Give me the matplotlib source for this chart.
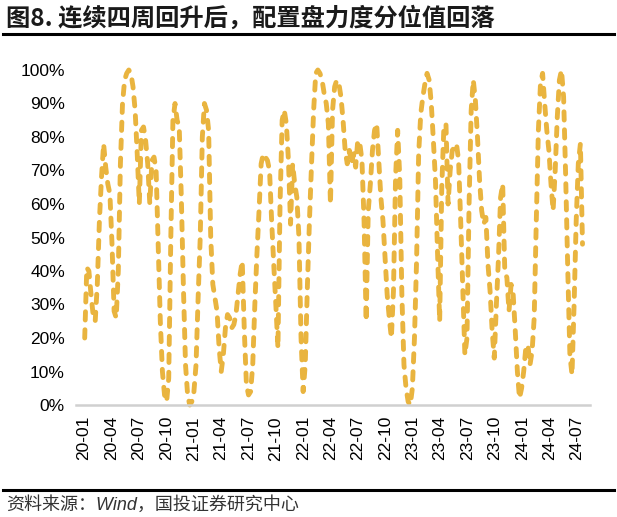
import matplotlib
matplotlib.use('Agg')
import matplotlib.pyplot as plt
from matplotlib.lines import Line2D
import pandas as pd

plt.rcParams['font.family'] = ['Liberation Sans', 'Noto Sans CJK SC', 'DejaVu Sans']

# ---- data (weekly, percentile in %) ----
start_date = '2020-01-03'
values = [
    # 2020
    20, 41, 40, 33, 27, 25, 36, 55, 68, 78, 71, 66, 63, 48, 28, 26, 40, 72, 90, 97,
    99, 100, 99, 95, 88, 75, 60, 82, 83, 79, 72, 60, 73, 74, 70, 48, 25, 10, 3, 1,
    8, 50, 85, 90, 85, 83, 62, 35, 12, 3, 0, 1, 4, 12, 32, 50, 80, 90, 88, 82,
    # 2021
    50, 36, 32, 28, 17, 10, 15, 23, 27, 26, 23, 24, 27, 33, 39, 43, 22, 6, 3, 4,
    12, 30, 45, 58, 72, 75, 74, 73, 70, 55, 42, 30, 17, 60, 85, 88, 84, 73, 54, 72,
    66, 62, 50, 20, 4, 12, 35, 55, 72, 88, 99, 100, 99, 97, 93, 90, 84, 60, 88, 95,
    # 2022
    97, 96, 92, 85, 76, 72, 76, 72, 75, 71, 79, 78, 73, 55, 25, 58, 66, 76, 82, 84,
    73, 62, 55, 44, 33, 26, 20, 34, 68, 82, 68, 33, 12, 5, 1, 0, 5, 20, 43, 75,
    87, 92, 96, 99, 97, 90, 79, 67, 45, 25, 65, 83, 84, 60, 70, 76, 77, 78, 73, 55,
    # 2023
    35, 15, 20, 60, 88, 97, 91, 80, 67, 58, 54, 56, 42, 34, 22, 14, 30, 44, 62, 66,
    40, 38, 28, 36, 33, 22, 10, 2, 5, 10, 17, 18, 12, 16, 26, 55, 82, 96, 99, 90,
    # 2024
    82, 76, 66, 58, 70, 86, 97, 100, 92, 68, 40, 15, 9, 30, 55, 72, 78, 48,
]
tick_labels = ['20-01', '20-04', '20-07', '20-10', '21-01', '21-04', '21-07',
               '21-10', '22-01', '22-04', '22-07', '22-10', '23-01', '23-04',
               '23-07', '23-10', '24-01', '24-04', '24-07']
y_ticks = [0, 10, 20, 30, 40, 50, 60, 70, 80, 90, 100]

title = '图8. 连续四周回升后，配置盘力度分位值回落'
source = '资料来源：Wind，国投证券研究中心'

dates = pd.date_range(start_date, periods=len(values), freq='7D')
tick_dates = pd.to_datetime(['20' + t + '-01' for t in tick_labels])

W, H = 617, 517
fig = plt.figure(figsize=(W / 100, H / 100), dpi=100)

ax_left, ax_right = 76, 590
y0, y100 = 405, 70
ax = fig.add_axes([ax_left / W, (H - y0) / H, (ax_right - ax_left) / W, (y0 - y100) / H])

ax.plot(dates, values, color='#E9B43F', lw=3.5, linestyle=(0, (1.7, 2.0)),
        dash_capstyle='round', solid_capstyle='round', clip_on=False)

ax.set_ylim(0, 100)
ax.set_yticks(y_ticks)
ax.set_yticklabels([f'{v}%' for v in y_ticks])

ax.set_xlim(pd.Timestamp('2019-12-05'), pd.Timestamp('2024-08-13'))
ax.set_xticks(tick_dates)
ax.set_xticklabels(tick_labels, rotation=90)

for s in ['top', 'right', 'left']:
    ax.spines[s].set_visible(False)
ax.spines['bottom'].set_color('#D0D0D0')
ax.spines['bottom'].set_linewidth(1.8)
ax.tick_params(axis='both', length=0, labelsize=12.5, colors='#000000')
ax.tick_params(axis='y', pad=8)
ax.tick_params(axis='x', pad=8)

fig.text(6 / W, 1 - 18 / H, title, fontsize=17.5, fontweight='bold',
         family=['Noto Sans CJK SC', 'DejaVu Sans'], va='center', ha='left', color='#1a1a1a')
fig.add_artist(Line2D([3 / W, 614 / W], [1 - 34 / H] * 2, color='black', lw=2.2))
fig.add_artist(Line2D([3 / W, 614 / W], [1 - 490 / H] * 2, color='black', lw=2.2))
fig.text(6 / W, 1 - 505 / H, source, fontsize=13, style='italic', color='#333333',
         family=['Liberation Sans', 'Noto Sans CJK SC'], va='center', ha='left')

fig.savefig('out.png', dpi=100)
